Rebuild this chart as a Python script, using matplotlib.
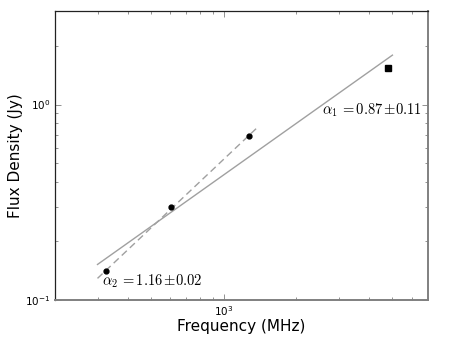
import matplotlib
matplotlib.use('Agg')
import matplotlib.pyplot as plt

plt.rcParams['mathtext.fontset'] = 'cm'

# Measured flux densities
freq_circles = [326, 607, 1275]
flux_circles = [0.140, 0.300, 0.690]
freq_square = [4800]
flux_square = [1.54]

# Power-law fit lines (end points)
fit1_freq = [300, 5000]
fit1_flux = [0.152, 1.79]
fit2_freq = [300, 1400]
fit2_flux = [0.129, 0.777]

label1 = r'$\alpha_1\,{=}0.87\,{\pm}0.11$'
label2 = r'$\alpha_2\,{=}1.16\,{\pm}0.02$'

fig = plt.figure(figsize=(4.61, 3.38), dpi=100)
ax = fig.add_axes([55 / 461, 1 - 300 / 338, (427.7 - 55) / 461, (300 - 11.3) / 338])

ax.plot(fit1_freq, fit1_flux, color='#a0a0a0', lw=1.0)
ax.plot(fit2_freq, fit2_flux, color='#a0a0a0', lw=1.0, ls=(0, (5, 3)))
ax.plot(freq_circles, flux_circles, 'o', color='black', ms=3.5)
ax.plot(freq_square, flux_square, 's', color='black', ms=4)

ax.set_xscale('log')
ax.set_yscale('log')
ax.set_xlim(200, 7000)
ax.set_ylim(0.1, 3.0)

ax.text(2550, 0.94, label1, fontsize=10.5, ha='left', va='center')
ax.text(312, 0.124, label2, fontsize=10.5, ha='left', va='center')

ax.set_xlabel('Frequency (MHz)', fontsize=11, labelpad=1)
ax.set_ylabel('Flux Density (Jy)', fontsize=11, labelpad=2)

ax.tick_params(which='both', direction='in', top=True, right=True,
               color='#808080', labelsize=7.5, pad=3)
ax.tick_params(which='major', length=4, width=0.6)
ax.tick_params(which='minor', length=2, width=0.6)

for side in ['top', 'left']:
    ax.spines[side].set_color('#222222')
    ax.spines[side].set_linewidth(0.9)
for side in ['bottom', 'right']:
    ax.spines[side].set_color('#808080')
    ax.spines[side].set_linewidth(1.4)

fig.savefig('out.png', dpi=100)
